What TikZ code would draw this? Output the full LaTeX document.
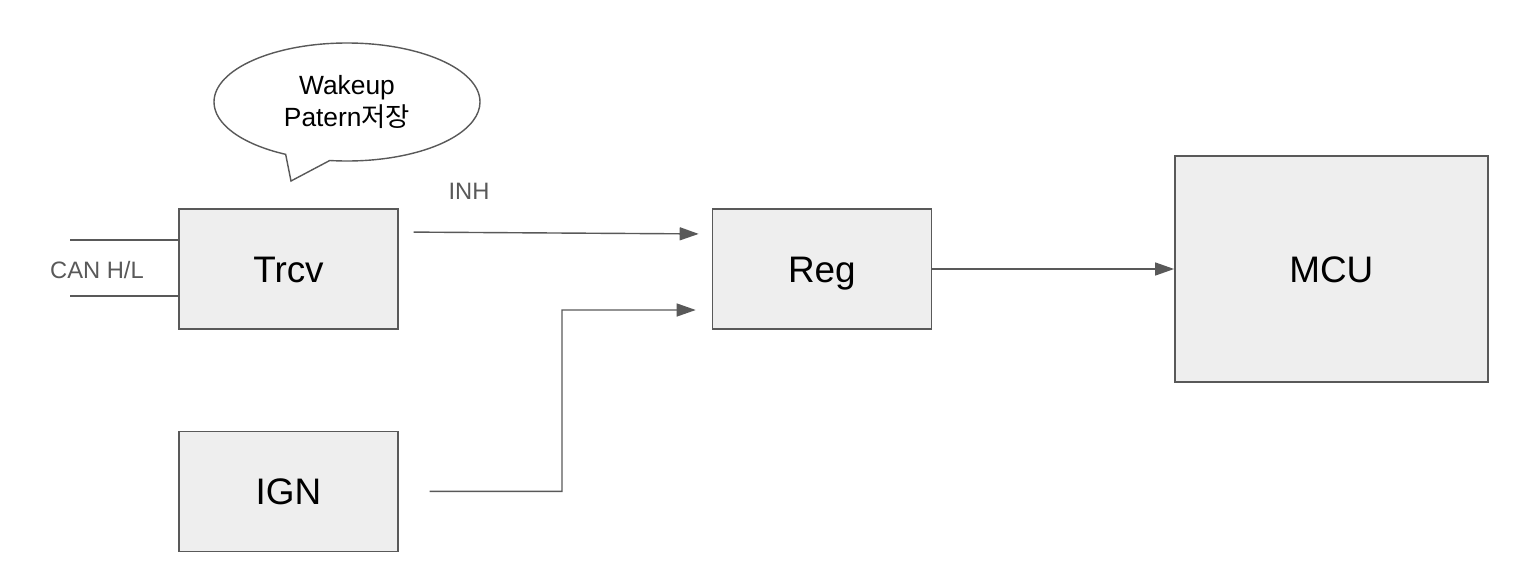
\documentclass[tikz,border=0pt]{standalone}
\usepackage{fontspec}
\setmainfont{Liberation Sans}
\newfontfamily\krfont{Noto Sans CJK KR}
\definecolor{boxfill}{HTML}{EEEEEE}
\definecolor{linegray}{HTML}{595959}
\tikzstyle{block}=[rectangle,draw=linegray,thick,fill=boxfill,minimum width=4.38cm,minimum height=2.4cm,
text height=15.2pt,text depth=0pt,font=\fontsize{21}{25}\selectfont]
\tikzstyle{bigblock}=[block,minimum width=6.26cm,minimum height=4.52cm]
\tikzstyle{wire}=[draw=linegray,thick]
\tikzstyle{sig}=[wire,-{Triangle[length=0.38cm,width=0.26cm]}]
\tikzstyle{lbl}=[text=linegray,font=\fontsize{13.5}{16}\selectfont]
\usetikzlibrary{arrows.meta,positioning,shapes.callouts}

\begin{document}
\begin{tikzpicture}[node distance=2cm]
            \useasboundingbox (0,0) rectangle (30.54,-11.54);

            % Trcv PART

            \node[block] at (5.77,-5.38) (trcv) {Trcv};
            \node[block,below=2.02cm of trcv] (ign) {IGN};
            \node[block,right=6.26cm of trcv] (reg) {Reg};
            \node[bigblock,right=4.84cm of reg] (mcu) {MCU};

            % callout
            \node[ellipse callout,draw=linegray,thick,fill=white,minimum width=5.32cm,minimum height=2.36cm,
                  callout absolute pointer={(5.82,-3.62)},callout pointer arc=20,
                  align=center,font=\fontsize{15}{18.7}\selectfont] at (6.94,-2.04) (memo) {Wakeup\\Patern{\krfont 저장}};

            % CAN lines
            \coordinate (canh) at (1.4,-4.8);
            \coordinate (canl) at (1.4,-5.92);
            \draw[wire] (canh) -- (canh -| trcv.west);
            \draw[wire] (canl) -- (canl -| trcv.west);
            \node[lbl] at (1.94,-5.4) (canlbl) {CAN H/L};

            % Connections

            \draw[sig,shorten <=0.3cm,shorten >=0.26cm] ([yshift=0.74cm]trcv.east) -- ([yshift=0.7cm]reg.west);
            \node[lbl] at (9.38,-3.82) (inh) {INH};
            \draw[sig] (reg) -- (mcu);

            \coordinate (ignbend) at (11.24,-6.2);
            \draw[sig,shorten <=0.62cm,shorten >=0.32cm] (ign.east) -| (ignbend) -- ([yshift=-0.82cm]reg.west);

\end{tikzpicture}
\end{document}
